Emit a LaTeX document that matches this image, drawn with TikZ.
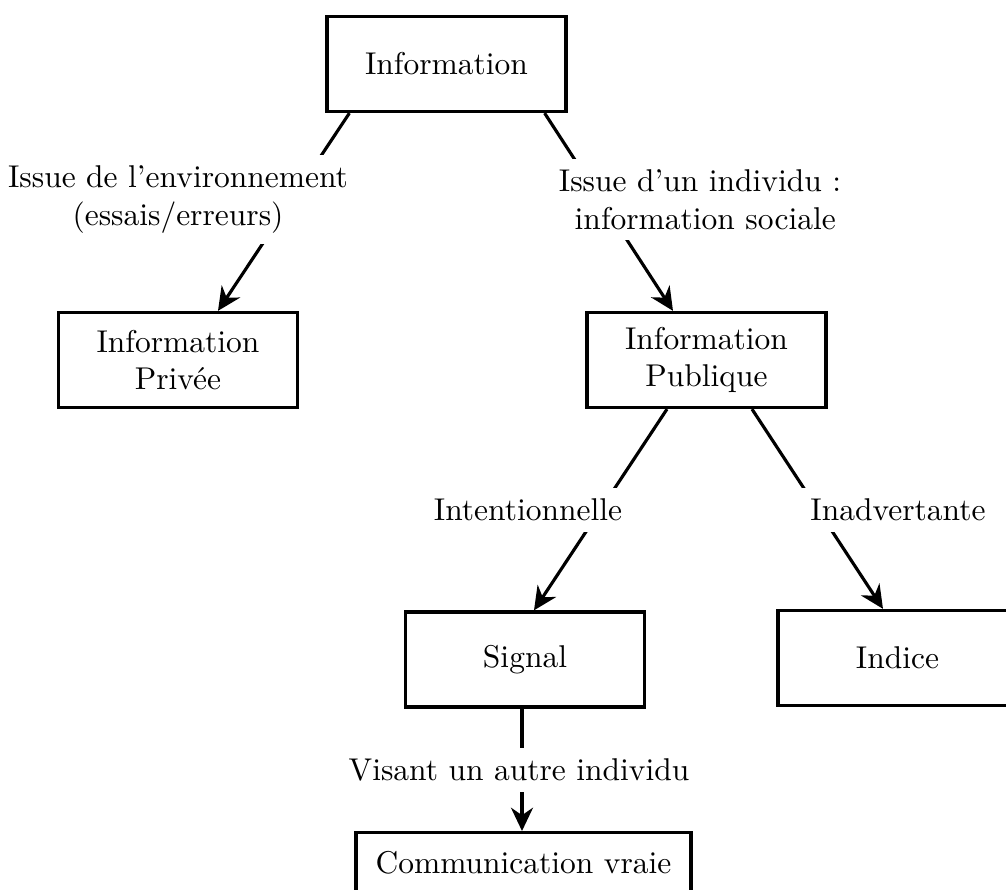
\documentclass[tikz,border=0pt]{standalone}
\usetikzlibrary{arrows.meta,calc}
\begin{document}
\begin{tikzpicture}[x=0.3175pt,y=-0.3175pt,
  every node/.style={font=\fontsize{10pt}{12pt}\selectfont},
  box/.style={draw, line width=1pt, align=center, inner sep=0pt,
    minimum width=75.9pt, minimum height=30.2pt},
  lbl/.style={fill=white, align=center, inner sep=3.33pt},
  link/.style={line width=1pt},
  arrow/.style={link, -{Stealth[length=7.4pt,width=7pt,inset=2.4pt]}}]
\clip (0,0) rectangle (1006,890);

% boxes
\node[box] (info)   at (446.5,64)   {Information};
\node[box] (priv)   at (178,360)    {Information\\Privée};
\node[box] (pub)    at (706.5,360)  {Information\\Publique};
\node[box] (signal) at (525,659.5)  {Signal};
\node[box] (indice) at (897.5,658)  {Indice};
\node[box, minimum width=106.4pt, minimum height=19pt] (comm) at (523.5,862.5) {Communication vraie};

% connectors
\draw[arrow] ($(info.south west)+(24,0)$)  -- ($(priv.north)+(40,0)$);
\draw[arrow] ($(info.south east)+(-23,0)$) -- ($(pub.north)+(-33.5,0)$);
\draw[arrow] ($(pub.south)+(-39.5,0)$)     -- ($(signal.north)+(9,0)$);
\draw[arrow] ($(pub.south)+(45.5,0)$)      -- ($(indice.north)+(-14.5,0)$);
\draw[arrow] ($(signal.south)+(-3,0)$)     -- ($(comm.north)+(-1.5,0)$);

% labels, set over the connectors
\node[lbl] (env)    at (178,199.5) {Issue de l’environnement\\(essais/erreurs)};
\node[lbl] (soc)    at (700,199.5) {Issue d’un individu :\\\hspace*{3.33pt}information sociale};
\node[lbl] (intent) at (528,510)   {Intentionnelle};
\node[lbl] (inadv)  at (898,510)   {Inadvertante};
\node[lbl] (vis)    at (519,770)   {Visant un autre individu};
\end{tikzpicture}
\end{document}
